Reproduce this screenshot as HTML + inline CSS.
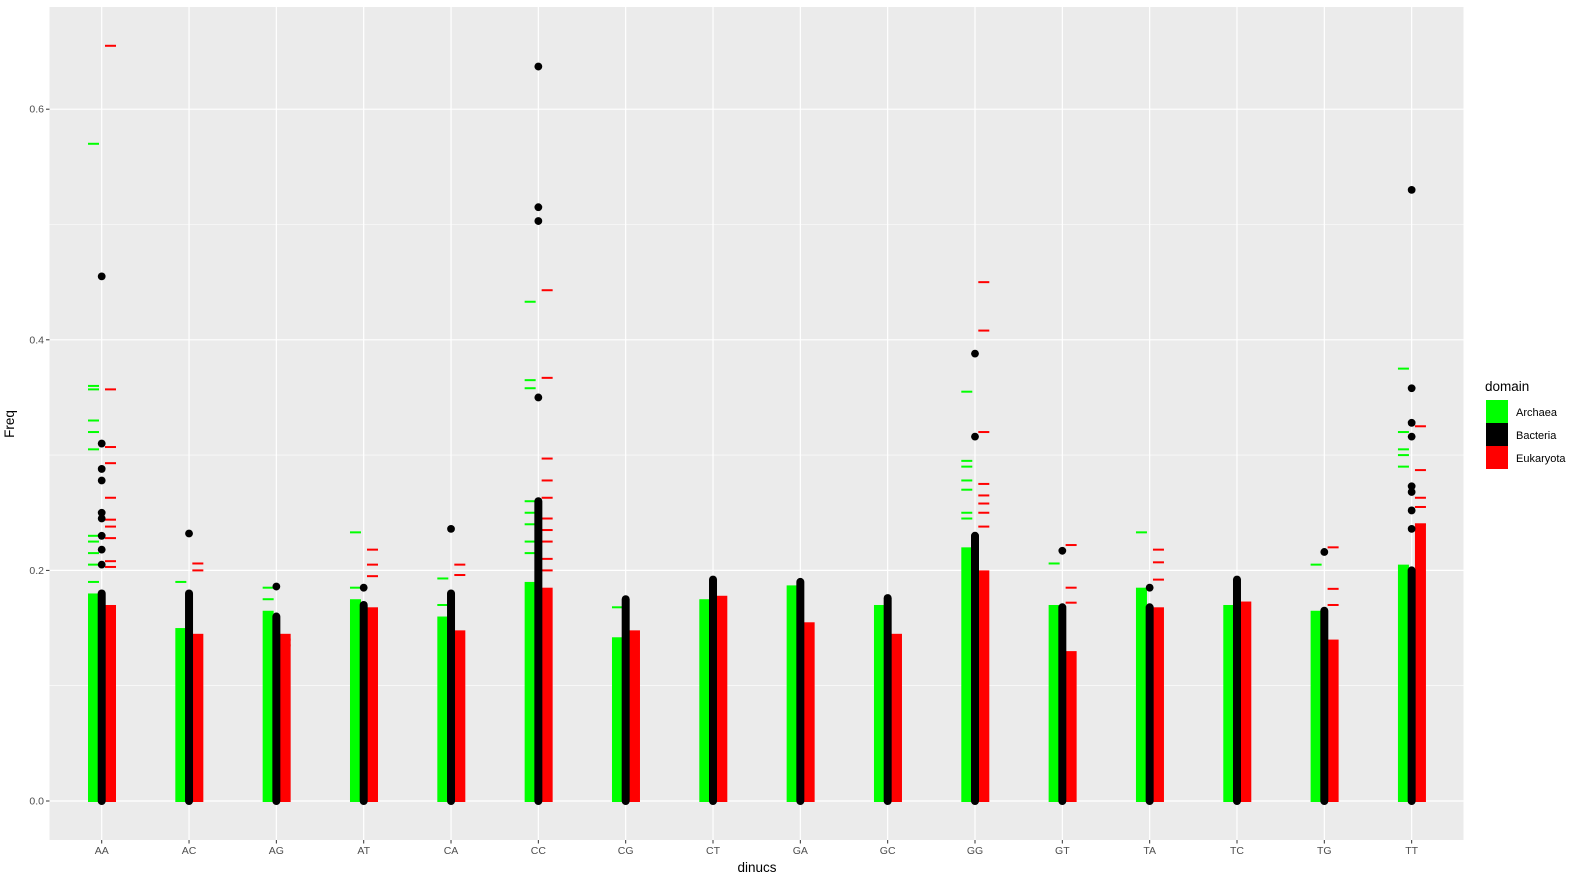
<!DOCTYPE html>
<html><head><meta charset="utf-8"><style>
body{margin:0;background:#fff;}
svg{display:block;font-family:"Liberation Sans",sans-serif;}
</style></head><body>
<svg id="chart" width="1586" height="884" xmlns="http://www.w3.org/2000/svg">
<rect x="49.5" y="7" width="1414" height="833" fill="#ebebeb"/>
<g id="grid"></g><g id="marks"></g><g id="axes"></g>
<text x="14" y="424" transform="rotate(-90 14 424)" text-anchor="middle" font-size="13.5" fill="#000">Freq</text>
<text x="757" y="872" text-anchor="middle" font-size="13.5" fill="#000">dinucs</text>
<g>
<text x="1485" y="391" font-size="13.5" fill="#000">domain</text>
<rect x="1486" y="400" width="22" height="23" fill="#00ff00"/>
<rect x="1486" y="423" width="22" height="23" fill="#000"/>
<rect x="1486" y="446" width="22" height="23" fill="#ff0000"/>
<text x="1516" y="416" font-size="11" fill="#000">Archaea</text>
<text x="1516" y="439" font-size="11" fill="#000">Bacteria</text>
<text x="1516" y="462" font-size="11" fill="#000">Eukaryota</text>
</g>
</svg>
<script>
const categories=["AA","AC","AG","AT","CA","CC","CG","CT","GA","GC","GG","GT","TA","TC","TG","TT"];
const yTicks=[0,0.2,0.4,0.6];
const yTickLabels=["0.0","0.2","0.4","0.6"];
const yMinor=[0.1,0.3,0.5];
// bulk (densely packed) top value per category
const archaeaBulk=[0.18,0.15,0.165,0.175,0.16,0.19,0.142,0.175,0.187,0.17,0.22,0.17,0.185,0.17,0.165,0.205];
const bacteriaBulk=[0.18,0.18,0.16,0.17,0.18,0.26,0.175,0.192,0.19,0.176,0.23,0.168,0.168,0.192,0.165,0.2];
const eukaryotaBulk=[0.17,0.145,0.145,0.168,0.148,0.185,0.148,0.178,0.155,0.145,0.2,0.13,0.168,0.173,0.14,0.24];
// outlying values per category
const archaeaOut=[[0.57,0.36,0.357,0.33,0.32,0.305,0.23,0.225,0.215,0.205,0.19],[0.19],[0.185,0.175],[0.233,0.185],[0.193,0.17],[0.433,0.365,0.358,0.26,0.25,0.24,0.225,0.215],[0.168],[],[],[],[0.355,0.295,0.29,0.278,0.27,0.25,0.245],[0.206],[0.233],[],[0.205],[0.375,0.32,0.305,0.3,0.29]];
const bacteriaOut=[[0.455,0.31,0.288,0.278,0.25,0.245,0.23,0.218,0.205],[0.232],[0.186],[0.185],[0.236],[0.637,0.515,0.503,0.35],[],[],[],[],[0.388,0.316],[0.217],[0.185],[],[0.216],[0.53,0.358,0.328,0.316,0.273,0.268,0.252,0.236]];
const eukaryotaOut=[[0.655,0.357,0.307,0.293,0.263,0.244,0.238,0.228,0.208,0.203],[0.206,0.2],[0.14,0.135],[0.218,0.205,0.195],[0.205,0.196],[0.443,0.367,0.297,0.278,0.263,0.245,0.235,0.225,0.21,0.2],[],[],[],[],[0.45,0.408,0.32,0.275,0.265,0.258,0.25,0.238],[0.222,0.185,0.172],[0.218,0.207,0.192],[],[0.22,0.184,0.17],[0.325,0.287,0.263,0.255,0.24]];

const NS="http://www.w3.org/2000/svg";
const xPos=i=>101.7+i*87.33;
const yPos=v=>801-v*1153;
function mk(tag,attrs,parent){const e=document.createElementNS(NS,tag);for(const k in attrs)e.setAttribute(k,attrs[k]);parent.appendChild(e);return e;}
const grid=document.getElementById('grid'),marks=document.getElementById('marks'),axes=document.getElementById('axes');
yMinor.forEach(v=>{const l=mk('line',{x1:49.5,x2:1463.5,y1:yPos(v),y2:yPos(v),stroke:'#fff','stroke-width':0.6},grid);

});
yTicks.forEach((v,i)=>{const l=mk('line',{x1:49.5,x2:1463.5,y1:yPos(v),y2:yPos(v),stroke:'#fff','stroke-width':1.2},grid);


const t=mk('line',{x1:46,x2:49.5,y1:yPos(v),y2:yPos(v),stroke:'#333','stroke-width':1},axes);


const tx=mk('text',{x:44,y:yPos(v)+3.5,'text-anchor':'end','font-size':10.5,fill:'#4d4d4d'},axes);tx.textContent=yTickLabels[i];

});
categories.forEach((c,i)=>{const x=xPos(i);
const l=mk('line',{x1:x,x2:x,y1:7,y2:840,stroke:'#fff','stroke-width':1.2},grid);


const t=mk('line',{x1:x,x2:x,y1:840,y2:843.5,stroke:'#333','stroke-width':1},axes);


const tx=mk('text',{x:x,y:854,'text-anchor':'middle','font-size':10.5,fill:'#4d4d4d'},axes);tx.textContent=c;


const ga=mk('rect',{x:x-13.7,y:yPos(archaeaBulk[i]),width:11,height:yPos(0)-yPos(archaeaBulk[i])+1,fill:'#00ff00'},marks);


archaeaOut[i].forEach(v=>{const r=mk('rect',{x:x-13.7,y:yPos(v)-1,width:11,height:2,fill:'#00ff00'},marks);

});
const re=mk('rect',{x:x+3.3,y:yPos(eukaryotaBulk[i]),width:11,height:yPos(0)-yPos(eukaryotaBulk[i])+1,fill:'#ff0000'},marks);


eukaryotaOut[i].forEach(v=>{const r=mk('rect',{x:x+3.3,y:yPos(v)-1,width:11,height:2,fill:'#ff0000'},marks);

});
const bb=mk('rect',{x:x-4,y:yPos(bacteriaBulk[i])-4,width:8,height:yPos(0)-yPos(bacteriaBulk[i])+8,rx:4,fill:'#000'},marks);


bacteriaOut[i].forEach(v=>{const p=mk('circle',{cx:x,cy:yPos(v),r:3.9,fill:'#000'},marks);

});
});
</script>
</body></html>
